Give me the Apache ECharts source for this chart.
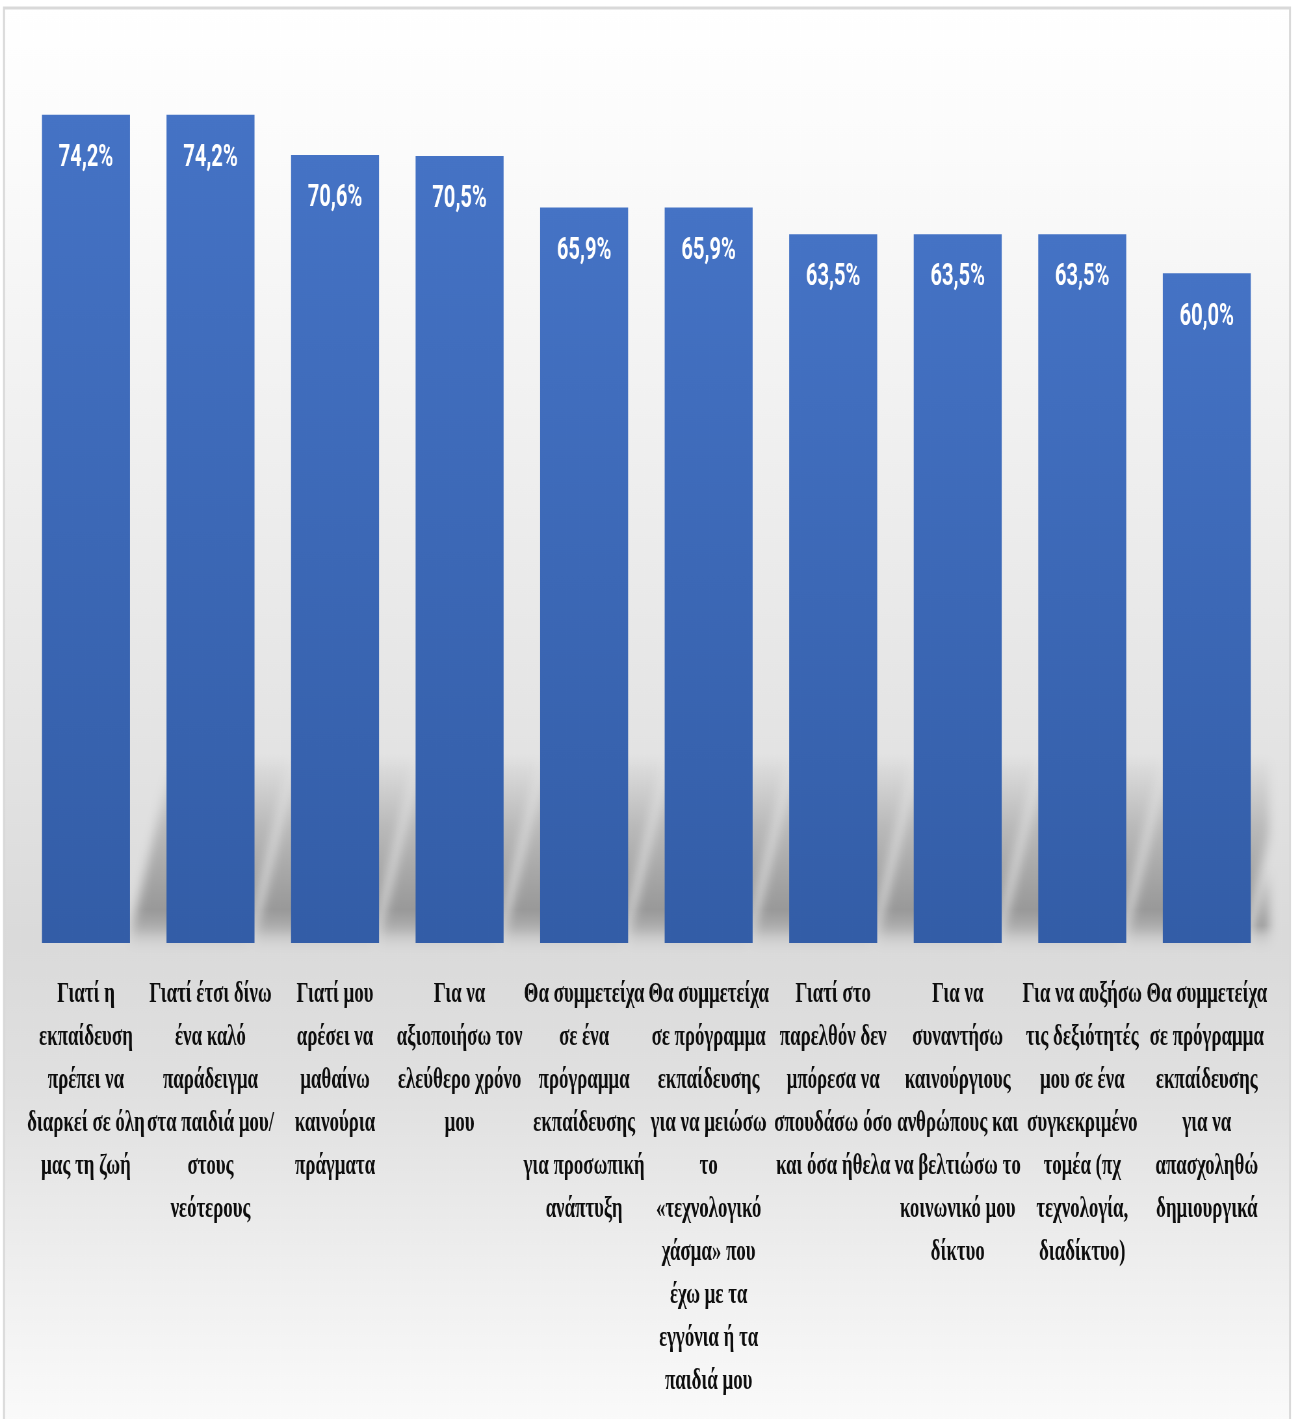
<!DOCTYPE html>
<html>
<head>
<meta charset="utf-8">
<script src="https://cdn.jsdelivr.net/npm/echarts@6/dist/echarts.min.js"></script>
<style>
  html, body { margin: 0; padding: 0; background: #ffffff; overflow: hidden; }
  #wrap { position: absolute; left: 0; top: 0; width: 1297px; height: 1419px; overflow: hidden; }
  #chart { position: absolute; left: 0; top: 0; height: 1419px; transform-origin: 0 0; }
</style>
</head>
<body>
<div id="wrap"><div id="chart"></div></div>
<script>
// Reasons for participating in adult education programmes (share of respondents, %)
const categories = [
  'Γιατί η\nεκπαίδευση\nπρέπει να\nδιαρκεί σε όλη\nμας τη ζωή',
  'Γιατί έτσι δίνω\nένα καλό\nπαράδειγμα\nστα παιδιά μου/\nστους\nνεότερους',
  'Γιατί μου\nαρέσει να\nμαθαίνω\nκαινούρια\nπράγματα',
  'Για να\nαξιοποιήσω τον\nελεύθερο χρόνο\nμου',
  'Θα συμμετείχα\nσε ένα\nπρόγραμμα\nεκπαίδευσης\nγια προσωπική\nανάπτυξη',
  'Θα συμμετείχα\nσε πρόγραμμα\nεκπαίδευσης\nγια να μειώσω\nτο\n«τεχνολογικό\nχάσμα» που\nέχω με τα\nεγγόνια ή τα\nπαιδιά μου',
  'Γιατί στο\nπαρελθόν δεν\nμπόρεσα να\nσπουδάσω όσο\nκαι όσα ήθελα',
  'Για να\nσυναντήσω\nκαινούργιους\nανθρώπους και\nνα βελτιώσω το\nκοινωνικό μου\nδίκτυο',
  'Για να αυξήσω\nτις δεξιότητές\nμου σε ένα\nσυγκεκριμένο\nτομέα (πχ\nτεχνολογία,\nδιαδίκτυο)',
  'Θα συμμετείχα\nσε πρόγραμμα\nεκπαίδευσης\nγια να\nαπασχοληθώ\nδημιουργικά'
];
const values = [74.2, 74.2, 70.6, 70.5, 65.9, 65.9, 63.5, 63.5, 63.5, 60.0];

// The chart is laid out on a wider canvas and narrowed with a horizontal scale,
// which gives the condensed lettering of the original figure.
const SQUEEZE = 0.65;
const PAGE_W = 1297;
const CANVAS_W = PAGE_W / SQUEEZE;
const sx = px => px / SQUEEZE;   // page pixels -> canvas pixels (horizontal only)

const el = document.getElementById('chart');
el.style.width = CANVAS_W + 'px';
el.style.transform = 'scaleX(' + SQUEEZE + ')';

const BAR_W = sx(88);
const fmt = v => v.toFixed(1).replace('.', ',') + '%';

// clip a polygon to the half-plane x <= xmax
function clipRight(points, xmax) {
  const out = [];
  for (let i = 0; i < points.length; i++) {
    const a = points[i], b = points[(i + 1) % points.length];
    const ain = a[0] <= xmax, bin = b[0] <= xmax;
    if (ain) out.push(a);
    if (ain !== bin) {
      const t = (xmax - a[0]) / (b[0] - a[0]);
      out.push([xmax, a[1] + t * (b[1] - a[1])]);
    }
  }
  return out;
}

// the shadow shape is drawn far above the canvas and only its blurred
// canvas shadow is brought back into place
const LIFT = 4000;

const chart = echarts.init(el, null, { renderer: 'canvas' });

chart.setOption({
  backgroundColor: '#ffffff',
  animation: false,
  graphic: [{
    type: 'rect',
    z: 0,
    silent: true,
    shape: { x: sx(4), y: 8, width: sx(1286), height: 1500 },
    style: {
      fill: {
        type: 'linear', x: 0, y: 0, x2: 0, y2: 1,
        colorStops: [
          { offset: 0.00, color: '#ffffff' },
          { offset: 0.10, color: '#fbfbfb' },
          { offset: 0.30, color: '#efefef' },
          { offset: 0.50, color: '#e3e3e3' },
          { offset: 0.62, color: '#dadada' },
          { offset: 0.72, color: '#e0e0e0' },
          { offset: 0.85, color: '#f0f0f0' },
          { offset: 0.95, color: '#fbfbfb' },
          { offset: 1.00, color: '#ffffff' }
        ]
      },
      stroke: '#d9d9d9',
      lineWidth: 3
    }
  }],
  grid: { left: sx(23.7), right: sx(27.7), top: 50, bottom: 476, containLabel: false },
  xAxis: {
    type: 'category',
    data: categories,
    axisLine: { show: false },
    axisTick: { show: false },
    axisLabel: {
      interval: 0,
      margin: 30,
      color: '#0d0d0d',
      fontFamily: "'Liberation Serif', 'Times New Roman', serif",
      fontWeight: 'bold',
      fontSize: 29,
      lineHeight: 43,
      align: 'center',
      verticalAlign: 'top'
    }
  },
  yAxis: {
    type: 'value',
    min: 0,
    max: 80,
    show: false,
    splitLine: { show: false }
  },
  series: [
    {
      // perspective shadow cast behind each column
      type: 'custom',
      z: 1,
      silent: true,
      clip: false,
      data: values.map((v, i) => [i, v]),
      renderItem: function (params, api) {
        const base = api.coord([api.value(0), 0]);
        const xmax = params.coordSys.x + params.coordSys.width;
        const right = base[0] + BAR_W / 2;
        const yb = base[1] - 6;
        const yt = base[1] - 190;
        const lean = sx(44);
        const w = BAR_W + sx(30);
        const pts = clipRight([
          [right, yb], [right + lean, yt], [right + lean + w, yt], [right + w, yb]
        ], xmax).map(p => [p[0], p[1] - LIFT]);
        return {
          type: 'polygon',
          shape: { points: pts },
          style: {
            fill: {
              type: 'linear', x: 0, y: 0, x2: 0, y2: 1,
              colorStops: [
                { offset: 0, color: 'rgba(0,0,0,0)' },
                { offset: 0.4, color: 'rgba(0,0,0,0.55)' },
                { offset: 0.85, color: 'rgba(0,0,0,1)' },
                { offset: 1, color: 'rgba(0,0,0,0.55)' }
              ]
            },
            shadowBlur: 16,
            shadowOffsetX: 0,
            shadowOffsetY: LIFT,
            shadowColor: 'rgba(125,125,125,0.7)'
          }
        };
      }
    },
    {
      type: 'bar',
      z: 2,
      data: values,
      barWidth: BAR_W,
      itemStyle: {
        color: {
          type: 'linear', x: 0, y: 0, x2: 0, y2: 1,
          colorStops: [
            { offset: 0, color: '#4573c5' },
            { offset: 1, color: '#335da7' }
          ]
        }
      },
      label: {
        show: true,
        position: 'insideTop',
        distance: 28,
        formatter: p => fmt(p.value),
        color: '#ffffff',
        fontWeight: 'bold',
        fontSize: 31,
        fontFamily: "Roboto, 'Liberation Sans', sans-serif"
      }
    }
  ]
});
</script>
</body>
</html>
